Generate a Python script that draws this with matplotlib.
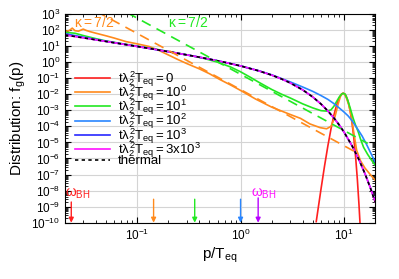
import numpy as np
import matplotlib
matplotlib.use("Agg")
import matplotlib.pyplot as plt
from matplotlib.ticker import LogLocator, NullFormatter

# --- data (log10 of f_g) ---
p_thermal = [0.02, 0.03, 0.05, 0.07, 0.1, 0.15, 0.2, 0.3, 0.4, 0.5, 0.7, 1.0, 1.5, 2.0,
             2.5, 3.0, 4.0, 5.0, 6.0, 7.0, 8.0, 9.0, 10.0, 12.0, 14.0, 16.0, 18.0, 20.0]
lf_thermal = [1.695, 1.516, 1.290, 1.140, 0.978, 0.791, 0.655, 0.456, 0.308, 0.188, -0.006,
              -0.235, -0.542, -0.805, -1.049, -1.281, -1.729, -2.169, -2.605, -3.040, -3.474,
              -3.909, -4.343, -5.212, -6.080, -6.949, -7.817, -8.686]
lf_t1e3 = [1.72, 1.53, 1.295, 1.142, 0.978, 0.791, 0.655, 0.456, 0.308, 0.188, -0.006,
           -0.235, -0.542, -0.805, -1.049, -1.281, -1.729, -2.169, -2.605, -3.040, -3.474,
           -3.909, -4.343, -5.212, -6.080, -6.949, -7.80, -8.64]
lf_t3e3 = lf_thermal

p_t1e2 = [0.02, 0.03, 0.05, 0.07, 0.1, 0.15, 0.2, 0.3, 0.5, 0.7, 1.0, 1.5, 2.0, 3.0, 4.0,
          5.0, 6.0, 7.0, 8.0, 9.0, 10.0, 11.0, 12.0, 13.0, 14.0, 15.0, 16.5, 18.0, 20.0]
lf_t1e2 = [1.78, 1.56, 1.30, 1.145, 0.98, 0.79, 0.655, 0.456, 0.19, -0.005, -0.23, -0.535,
           -0.79, -1.22, -1.55, -1.82, -2.08, -2.32, -2.58, -2.85, -3.10, -3.35, -3.65,
           -3.98, -4.30, -4.60, -5.10, -5.60, -6.20]

p_t1e1 = [0.02, 0.025, 0.03, 0.04, 0.05, 0.07, 0.1, 0.15, 0.2, 0.3, 0.36, 0.45, 0.6, 0.8,
          1.0, 1.25, 1.5, 2.0, 2.5, 3.0, 4.0, 5.0, 6.0, 6.8, 7.5, 8.0, 8.5, 9.0, 9.5, 9.85,
          10.3, 10.8, 11.5, 12.3, 13.0, 13.7, 14.5, 15.5, 17.0, 18.5, 20.0]
lf_t1e1 = [1.86, 1.80, 1.66, 1.46, 1.32, 1.16, 1.0, 0.81, 0.67, 0.46, 0.36, 0.22, 0.0, -0.3,
           -0.6, -0.95, -1.25, -1.7, -2.0, -2.22, -2.6, -2.85, -3.02, -3.05, -2.97, -2.75,
           -2.45, -2.18, -1.99, -1.94, -2.0, -2.3, -2.85, -3.5, -3.95, -4.3, -4.8, -5.3,
           -5.75, -6.1, -6.4]

p_t1e0 = [0.02, 0.022, 0.0235, 0.025, 0.027, 0.03, 0.032, 0.035, 0.04, 0.05, 0.06, 0.078,
          0.1, 0.13, 0.16, 0.2, 0.25, 0.3, 0.4, 0.5, 0.63, 0.8, 1.0, 1.4, 2.0, 3.0, 3.8, 4.7,
          5.9, 6.8, 7.5, 8.2, 8.8, 9.3, 9.7, 10.1, 10.6, 11.2, 11.8, 12.4, 13.3, 14.5, 16.0,
          18.0, 20.0]
lf_t1e0 = [1.92, 1.97, 2.12, 1.96, 1.93, 2.06, 1.98, 1.90, 1.80, 1.64, 1.50, 1.28, 1.14,
           0.98, 0.75, 0.45, 0.15, -0.08, -0.42, -0.72, -1.08, -1.42, -1.76, -2.30, -2.80,
           -3.25, -3.50, -3.85, -4.08, -4.15, -4.00, -3.40, -2.60, -2.10, -1.95, -1.97,
           -2.25, -2.70, -3.40, -4.30, -5.50, -6.15, -6.60, -7.00, -7.34]

p_t0 = [5.4, 6.0, 6.5, 7.0, 7.5, 8.0, 8.5, 9.0, 9.5, 9.85, 10.2, 10.5, 11.0, 11.5, 12.0,
        12.5, 13.0, 13.5, 14.0, 14.5]
lf_t0 = [-9.93, -7.92, -6.46, -5.21, -4.16, -3.31, -2.67, -2.22, -1.98, -1.93, -1.98, -2.10,
         -2.46, -3.03, -3.80, -4.77, -5.94, -7.31, -8.89, -10.66]

# kappa = 7/2 guide lines (end points)
p_kappa_orange = [0.04, 13.0]
f_kappa_orange = [1.5e3, 2.5e-6]
p_kappa_green = [0.08, 17.0]
f_kappa_green = [1.2e3, 8.7e-6]

# omega_BH arrows
arrow_p = [0.023, 0.144, 0.36, 1.0, 1.48]
arrow_top = [1.95e-9, 2.9e-9, 2.9e-9, 2.9e-9, 3.5e-9]

labels = [r"$t\lambda_2^2T_{eq}{=}0$", r"$t\lambda_2^2T_{eq}{=}10^0$",
          r"$t\lambda_2^2T_{eq}{=}10^1$", r"$t\lambda_2^2T_{eq}{=}10^2$",
          r"$t\lambda_2^2T_{eq}{=}10^3$", r"$t\lambda_2^2T_{eq}{=}3\mathrm{x}10^3$", "thermal"]

RED = "#ff2020"
ORANGE = "#ff8a1c"
GREEN = "#22e822"
LBLUE = "#2a86ff"
DBLUE = "#2828ff"
MAGENTA = "#ff10ff"
PURPLE = "#b800ff"

plt.rcParams["font.family"] = ["Liberation Sans", "DejaVu Sans"]
plt.rcParams["mathtext.fontset"] = "custom"
plt.rcParams["mathtext.rm"] = "Liberation Sans"
plt.rcParams["mathtext.it"] = "Liberation Sans"
plt.rcParams["mathtext.bf"] = "Liberation Sans:bold"
plt.rcParams["axes.unicode_minus"] = False

fig = plt.figure(figsize=(3.99, 2.79), dpi=100)
ax = fig.add_axes([65 / 399, 1 - 222.7 / 279, 310 / 399, 208.7 / 279])

lw = 1.2
tp = lambda v: np.power(10.0, v)
ax.plot(p_t0, tp(lf_t0), color=RED, lw=lw, label=labels[0])
ax.plot(p_t1e0, tp(lf_t1e0), color=ORANGE, lw=lw, label=labels[1])
ax.plot(p_t1e1, tp(lf_t1e1), color=GREEN, lw=lw, label=labels[2])
ax.plot(p_t1e2, tp(lf_t1e2), color=LBLUE, lw=lw, label=labels[3])
ax.plot(p_thermal, tp(lf_t1e3), color=DBLUE, lw=lw, label=labels[4])
ax.plot(p_thermal, tp(lf_t3e3), color=MAGENTA, lw=lw, label=labels[5])
ax.plot(p_thermal, tp(lf_thermal), color="black", lw=lw, dashes=(2, 2), label=labels[6])

ax.plot(p_kappa_orange, f_kappa_orange, color=ORANGE, lw=lw, dashes=(6, 4))
ax.plot(p_kappa_green, f_kappa_green, color=GREEN, lw=lw, dashes=(6, 4))
ax.text(0.0246, 290, r"$\kappa{=}7/2$", color=ORANGE, fontsize=10, va="center", ha="left")
ax.text(0.197, 290, r"$\kappa{=}7/2$", color=GREEN, fontsize=10, va="center", ha="left")

acols = [RED, ORANGE, GREEN, LBLUE, PURPLE]
for x, top, c in zip(arrow_p, arrow_top, acols):
    ax.annotate("", xy=(x, 1e-10), xytext=(x, top),
                arrowprops=dict(arrowstyle="-|>", color=c, lw=1.0, mutation_scale=7,
                                shrinkA=0, shrinkB=0))
ax.text(0.0199, 4e-9, r"$\omega_{BH}$", color=RED, fontsize=10, ha="left", va="baseline")
ax.text(1.25, 4e-9, r"$\omega_{BH}$", color=MAGENTA, fontsize=10, ha="left", va="baseline")

ax.set_xscale("log")
ax.set_yscale("log")
ax.set_xlim(0.02, 20)
ax.set_ylim(1e-10, 1e3)
ax.yaxis.set_major_locator(LogLocator(base=10, numticks=100))
ax.yaxis.set_minor_locator(LogLocator(base=10, subs=np.arange(2, 10), numticks=100))
ax.yaxis.set_minor_formatter(NullFormatter())
ax.xaxis.set_minor_formatter(NullFormatter())
ax.tick_params(which="both", direction="in", top=True, right=True, labelsize=8.5)
ax.tick_params(which="major", length=4)
ax.tick_params(which="minor", length=2)
ax.grid(True, which="major", color="#d4d4d4", lw=0.8)
ax.set_axisbelow(True)

ax.set_xlabel(r"p/T$_{eq}$", fontsize=11, labelpad=2)
ax.set_ylabel(r"Distribution: f$_g$(p)", fontsize=11, labelpad=2)

ax.legend(loc="upper left", bbox_to_anchor=(0.032, 0.735), frameon=False, fontsize=9.5,
          borderaxespad=0, borderpad=0, handlelength=2.65, handletextpad=0.6,
          labelspacing=-0.37)

fig.savefig("out.png", dpi=100)
